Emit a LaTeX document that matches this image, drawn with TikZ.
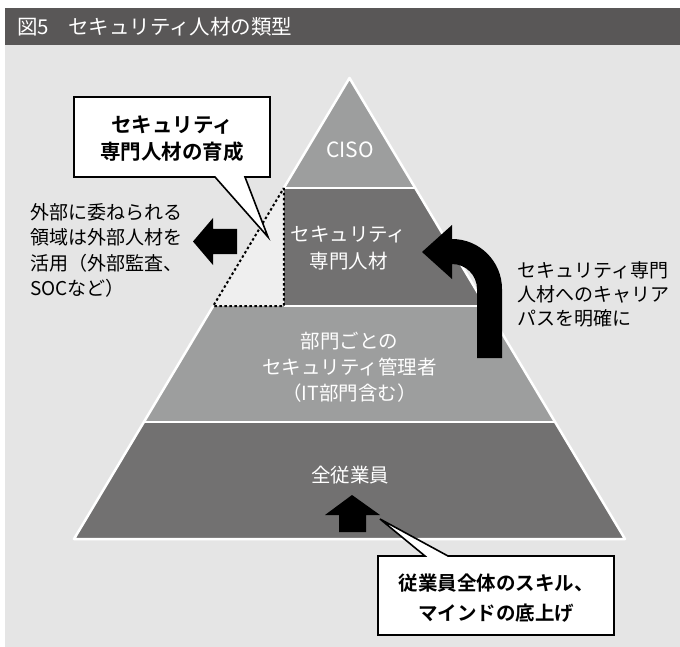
\documentclass[tikz,border=0pt]{standalone}
\usepackage{fontspec}
\setmainfont{Noto Sans CJK JP}[BoldFont={Noto Sans CJK JP Bold}]
\definecolor{titlebar}{HTML}{595757}
\definecolor{bgcol}{HTML}{E5E5E5}
\definecolor{tierlight}{HTML}{9D9E9E}
\definecolor{tierdark}{HTML}{727171}
\definecolor{palecol}{HTML}{EFEFEF}
\tikzset{
  tiertext/.style={text=white, align=center, inner sep=0pt, font=\fontsize{19.5}{26}\selectfont},
  plaintext/.style={text=black, align=left, inner sep=0pt, font=\fontsize{19}{25.5}\selectfont},
  calltext/.style={text=black, align=center, inner sep=0pt, font=\bfseries\fontsize{20.5}{27}\selectfont},
  sepline/.style={white, line width=2.5pt, line join=round},
  blackarrow/.style={fill=black, draw=none},
  callout/.style={fill=white, draw=black, line width=1.6pt, line join=miter},
  dottedline/.style={draw=black, line width=2pt, dash pattern=on 2.5pt off 2.5pt}
}
\begin{document}
\begin{tikzpicture}[x=1pt, y=-1pt]
\useasboundingbox (0,0) rectangle (680,647);
% background
\fill[bgcol] (5,45) rectangle (680,647);
\fill[titlebar] (5,8) rectangle (680,45);
\node[anchor=west, text=white, inner sep=0pt, font=\fontsize{20.5}{24}\selectfont] (title) at (17,27) {図5\hspace{19pt}セキュリティ人材の類型};

% pyramid coordinates
\coordinate (apex) at (349.5,78);
\coordinate (l1) at (283.8,188); \coordinate (r1) at (415.2,188);
\coordinate (l2) at (213.2,306); \coordinate (r2) at (485.8,306);
\coordinate (m2) at (283.8,306);
\coordinate (l3) at (143.9,422); \coordinate (r3) at (555.1,422);
\coordinate (l4) at (74,539);    \coordinate (r4) at (625,539);

\fill[tierlight] (apex) -- (r1) -- (l1) -- cycle;
\fill[tierdark] (l1) -- (r1) -- (r2) -- (m2) -- cycle;
\fill[palecol] (l1) -- (m2) -- (l2) -- cycle;
\fill[tierlight] (l2) -- (r2) -- (r3) -- (l3) -- cycle;
\fill[tierdark] (l3) -- (r3) -- (r4) -- (l4) -- cycle;

% white outlines and separators
\draw[sepline] (l1) -- (apex) -- (r4) -- (l4) -- (l2);
\draw[sepline] (l1) -- (r1);
\draw[sepline] (m2) -- (r2);
\draw[sepline] (l3) -- (r3);
% dotted part
\draw[dottedline] (l1) -- (m2) -- (l2) -- cycle;

% tier texts
\node[tiertext, font=\fontsize{21}{26}\selectfont] (ciso) at (350,150) {CISO};
\node[tiertext, font=\fontsize{19.5}{27}\selectfont] (spec) at (348.5,248.5) {セキュリティ\\専門人材};
\node[tiertext] (mgr) at (349.5,367.5) {部門ごとの\\セキュリティ管理者\\（IT部門含む）};
\node[tiertext] (all) at (350,475) {全従業員};

% left side text and arrow
\node[plaintext, anchor=north west] (ext) at (30,203) {外部に委ねられる\\領域は外部人材を\\活用（外部監査、\\SOCなど）};
\fill[blackarrow] (193,241.5) -- (213,218) -- (213,229) -- (237,229) -- (237,254) -- (213,254) -- (213,265) -- cycle;

% right curved arrow
\fill[blackarrow] (422,252) -- (452,225) -- (452,239)
  .. controls (479.6,239) and (502,261.4) .. (502,289)
  -- (502,358) -- (477,358) -- (477,289)
  .. controls (477,275.2) and (465.8,264) .. (452,264)
  -- (452,279) -- cycle;
\node[plaintext, anchor=north west, font=\fontsize{19}{24}\selectfont] (career) at (517,261) {セキュリティ専門\\人材へのキャリア\\パスを明確に};

% up arrow
\fill[blackarrow] (352,495) -- (380,515) -- (366,515) -- (366,532) -- (339,532) -- (339,515) -- (325,515) -- cycle;

% top callout
\coordinate (tipA) at (268,237);
\draw[callout] (74,97) -- (270,97) -- (270,177) -- (245,177) -- (tipA) -- (215,177) -- (74,177) -- cycle;
\node[calltext] (callA) at (172,138.5) {セキュリティ\\専門人材の育成};

% bottom callout
\coordinate (tipB) at (380,519);
\draw[callout] (378,556) -- (425,556) -- (tipB) -- (448,556) -- (614,556) -- (614,635) -- (378,635) -- cycle;
\node[calltext, font=\bfseries\fontsize{19.5}{30}\selectfont] (callB) at (496,598) {従業員全体のスキル、\\マインドの底上げ};
\end{tikzpicture}
\end{document}
